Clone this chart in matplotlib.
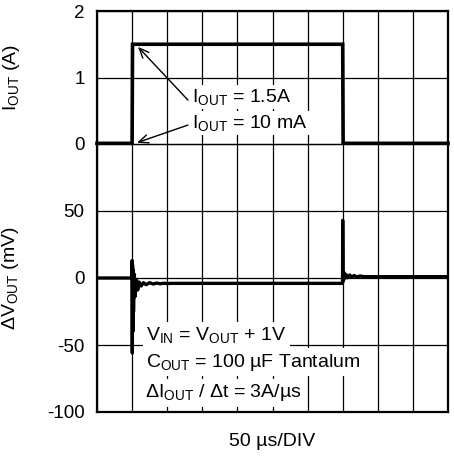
import matplotlib
matplotlib.use("Agg")
import matplotlib.pyplot as plt

plt.rcParams['font.family'] = ['Liberation Sans', 'DejaVu Sans']
plt.rcParams['mathtext.fontset'] = 'custom'
plt.rcParams['mathtext.rm'] = 'Liberation Sans'
plt.rcParams['mathtext.it'] = 'Liberation Sans:italic'
plt.rcParams['mathtext.bf'] = 'Liberation Sans:bold'

# ---- data (time in microseconds, 50 us/DIV, 10 divisions) ----
t_current = [0, 50, 50.6, 350, 350.6, 500]
i_out = [0.01, 0.01, 1.5, 1.5, 0.01, 0.01]

t_volt = [0, 49.8, 50.0, 50.3, 50.6, 51.0, 51.5, 52, 53, 54, 56, 58, 60, 63, 66,
          70, 75, 80, 85, 90, 95, 100, 105, 349.8,
          350.0, 350.4, 351.0, 352, 353.5, 355, 357, 360, 363, 366, 370, 375, 380, 500]
dv_out = [0, 0, 13, -56, 10, -40, 6, -25, 3, -14, -1, -9, -3, -6, -3.5,
          -5, -3.5, -4.5, -3.8, -4.3, -3.9, -4.2, -4, -4,
          43, 5, -2, 4, 0, 2.5, 0.2, 2.2, 0.6, 1.8, 0.9, 1.5, 1.0, 1.0]

x_ticks = list(range(0, 501, 50))
i_ticks = [0, 1, 2]
v_ticks = [-100, -50, 0, 50]

W, H = 454, 459
fig = plt.figure(figsize=(W / 100, H / 100), dpi=100)

left, right = 97 / W, 448 / W
top_y, mid_y, bot_y = 1 - 11 / H, 1 - 144 / H, 1 - 412 / H
ax1 = fig.add_axes([left, mid_y, right - left, top_y - mid_y])
ax2 = fig.add_axes([left, bot_y, right - left, mid_y - bot_y])

fs_tick = 13.5
fs = 14
for ax in (ax1, ax2):
    ax.set_xlim(0, 500)
    ax.set_xticks(x_ticks)
    ax.set_xticklabels([])
    ax.grid(True, color='black', lw=0.9)
    ax.tick_params(length=0, pad=9, labelsize=fs_tick)
    ax.set_axisbelow(True)
    for s in ax.spines.values():
        s.set_linewidth(1.6)

ax1.set_ylim(0, 2)
ax1.set_yticks(i_ticks)
ax1.set_yticklabels([str(v) for v in i_ticks])
ax1.spines['bottom'].set_visible(False)

ax2.set_ylim(-100, 100)
ax2.set_yticks(v_ticks + [100])
ax2.set_yticklabels([str(v) for v in v_ticks] + [''])
ax2.spines['top'].set_linewidth(0.9)

ax1.plot(t_current, i_out, color='black', lw=2.6, solid_joinstyle='miter', clip_on=False, zorder=3)
ax2.plot(t_volt, dv_out, color='black', lw=2.4, zorder=3)

ax1.set_ylabel(r'$\mathregular{I_{OUT}}$ (A)', fontsize=fs)
ax1.yaxis.set_label_coords((22 - 97) / 351, 0.5)
ax2.set_ylabel(r'$\mathregular{\Delta V_{OUT}}$ (mV)', fontsize=fs)
ax2.yaxis.set_label_coords((21 - 97) / 351, 0.5)

fig.text(272.5 / W, 1 - 441 / H, '50 µs/DIV', ha='center', va='center', fontsize=fs)

# annotations top
box = dict(facecolor='white', edgecolor='none', pad=1.5)
ax1.text(135.5, 0.636, r'$\mathregular{I_{OUT}}$ = 1.5A', fontsize=fs, ha='left',
         va='baseline', bbox=box, zorder=4)
ax1.text(135.5, 0.236, r'$\mathregular{I_{OUT}}$ = 10 mA', fontsize=fs, ha='left',
         va='baseline', bbox=box, zorder=4)
arrow = dict(arrowstyle='->,head_length=0.7,head_width=0.3', lw=1.0, color='black',
             shrinkA=0, shrinkB=0)
ax1.annotate('', xy=(58.4, 1.46), xytext=(129.6, 0.66), arrowprops=arrow, zorder=5)
ax1.annotate('', xy=(57.0, 0.02), xytext=(129.6, 0.285), arrowprops=arrow, zorder=5)

# annotations bottom
box2 = dict(facecolor='white', edgecolor='none', pad=2.5)
ax2.text(70.5, -46.4, r'$\mathregular{V_{IN}}$ = $\mathregular{V_{OUT}}$ + 1V', fontsize=fs,
         ha='left', va='baseline', bbox=box2, zorder=4)
ax2.text(70.5, -66.4, r'$\mathregular{C_{OUT}}$ = 100 µF Tantalum', fontsize=fs,
         ha='left', va='baseline', bbox=box2, zorder=4)
ax2.text(68.5, -88.9, r'$\mathregular{\Delta I_{OUT}}$ / Δt = 3A/µs', fontsize=fs,
         ha='left', va='baseline', bbox=box2, zorder=4)

fig.savefig('out.png', dpi=100)
